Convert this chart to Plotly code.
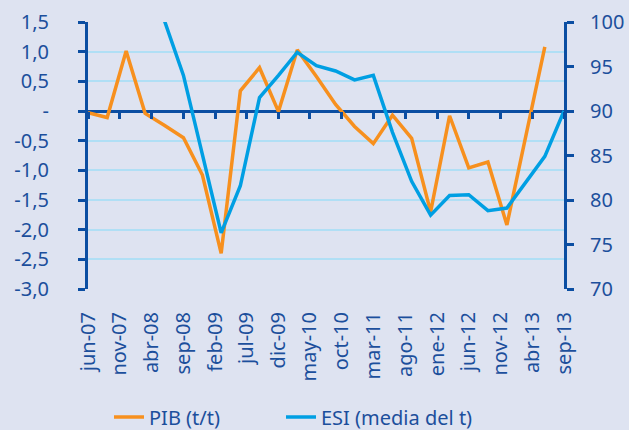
import plotly.graph_objects as go

# ---- data ----
quarters = ["2007-06-01", "2007-09-01", "2007-12-01", "2008-03-01", "2008-06-01", "2008-09-01",
            "2008-12-01", "2009-03-01", "2009-06-01", "2009-09-01", "2009-12-01", "2010-03-01",
            "2010-06-01", "2010-09-01", "2010-12-01", "2011-03-01", "2011-06-01", "2011-09-01",
            "2011-12-01", "2012-03-01", "2012-06-01", "2012-09-01", "2012-12-01", "2013-03-01",
            "2013-06-01", "2013-09-01"]
pib = [-0.03, -0.11, 1.01, -0.04, -0.24, -0.45, -1.08, -2.40, 0.34, 0.73, -0.01, 1.03,
       0.58, 0.11, -0.26, -0.55, -0.07, -0.46, -1.70, -0.08, -0.96, -0.86, -1.92, -0.42,
       1.08, None]
esi = [None, None, None, None, 100.2, 94.0, 85.1, 76.3, 81.6, 91.5, 94.0, 96.6,
       95.1, 94.5, 93.5, 94.0, 87.6, 82.1, 78.3, 80.5, 80.6, 78.8, 79.1, 82.0,
       84.9, 90.0]

x_tick_vals = ["2007-06-01", "2007-11-01", "2008-04-01", "2008-09-01", "2009-02-01", "2009-07-01",
               "2009-12-01", "2010-05-01", "2010-10-01", "2011-03-01", "2011-08-01", "2012-01-01",
               "2012-06-01", "2012-11-01", "2013-04-01", "2013-09-01"]
x_tick_text = ["jun-07", "nov-07", "abr-08", "sep-08", "feb-09", "jul-09", "dic-09", "may-10",
               "oct-10", "mar-11", "ago-11", "ene-12", "jun-12", "nov-12", "abr-13", "sep-13"]
left_tick_vals = [1.5, 1.0, 0.5, 0, -0.5, -1.0, -1.5, -2.0, -2.5, -3.0]
left_tick_text = ["1,5", "1,0", "0,5", "-", "-0,5", "-1,0", "-1,5", "-2,0", "-2,5", "-3,0"]
right_tick_vals = [100, 95, 90, 85, 80, 75, 70]

# ---- styles ----
BG = "#dee3f1"
AXIS = "#0b4ea2"
TEXT = "#1c4f9c"
GRID = "#b0dff5"
ORANGE = "#f7901e"
BLUE = "#009fe3"
FONT = "Noto Sans"

fig = go.Figure()
fig.add_trace(go.Scatter(x=quarters, y=pib, name="PIB (t/t)", mode="lines",
                         line=dict(color=ORANGE, width=3.5), xaxis="x", yaxis="y",
                         legend="legend"))
fig.add_trace(go.Scatter(x=quarters, y=esi, name="ESI (media del t)", mode="lines",
                         line=dict(color=BLUE, width=3.5), xaxis="x2", yaxis="y2",
                         legend="legend2"))

xr = [x_tick_vals[0], x_tick_vals[-1]]
leg_common = dict(orientation="h", xref="container", yref="container", xanchor="left",
                  yanchor="middle", y=1 - 417 / 430, font=dict(size=20, color=TEXT),
                  bgcolor="rgba(0,0,0,0)")
fig.update_layout(
    width=629, height=430,
    paper_bgcolor=BG, plot_bgcolor=BG,
    margin=dict(l=88, r=65, t=22, b=141, autoexpand=False),
    font=dict(family=FONT, size=20, color=TEXT),
    showlegend=True,
    legend=dict(x=109 / 629, **leg_common),
    legend2=dict(x=281 / 629, **leg_common),
    xaxis=dict(type="date", range=xr, tickmode="array", tickvals=x_tick_vals,
               ticktext=x_tick_text, tickangle=-90, showgrid=False, showline=False,
               zeroline=False, ticks="outside", ticklen=14, tickcolor="rgba(0,0,0,0)",
               tickfont=dict(size=20, color=TEXT), automargin=False),
    xaxis2=dict(type="date", range=xr, overlaying="x", anchor="free", position=2/3,
                tickmode="array", tickvals=x_tick_vals, showticklabels=False,
                showgrid=False, showline=False, zeroline=False, ticks="outside",
                ticklen=7, tickwidth=3, tickcolor=AXIS, automargin=False),
    yaxis=dict(range=[-3.0, 1.5], tickmode="array", tickvals=left_tick_vals,
               ticktext=left_tick_text, showgrid=True, gridcolor=GRID, gridwidth=1.5,
               showline=True, linecolor=AXIS, linewidth=3, ticks="outside", ticklen=7,
               tickwidth=3, tickcolor=AXIS, zeroline=True, zerolinecolor=AXIS,
               zerolinewidth=3, tickfont=dict(size=20, color=TEXT), layer="below traces",
               ticklabelstandoff=25, automargin=False),
    yaxis2=dict(range=[70, 100], overlaying="y", side="right", anchor="x2", tickmode="array",
                tickvals=right_tick_vals, showgrid=False, zeroline=False, showline=True,
                linecolor=AXIS, linewidth=3, ticks="outside", ticklen=7, tickwidth=3,
                tickcolor=AXIS, tickfont=dict(size=20, color=TEXT), ticklabelstandoff=12,
                automargin=False),
)

fig.write_html("out.html", config={"displayModeBar": False},
               post_script="document.body.style.margin='0';document.body.style.padding='0';")
